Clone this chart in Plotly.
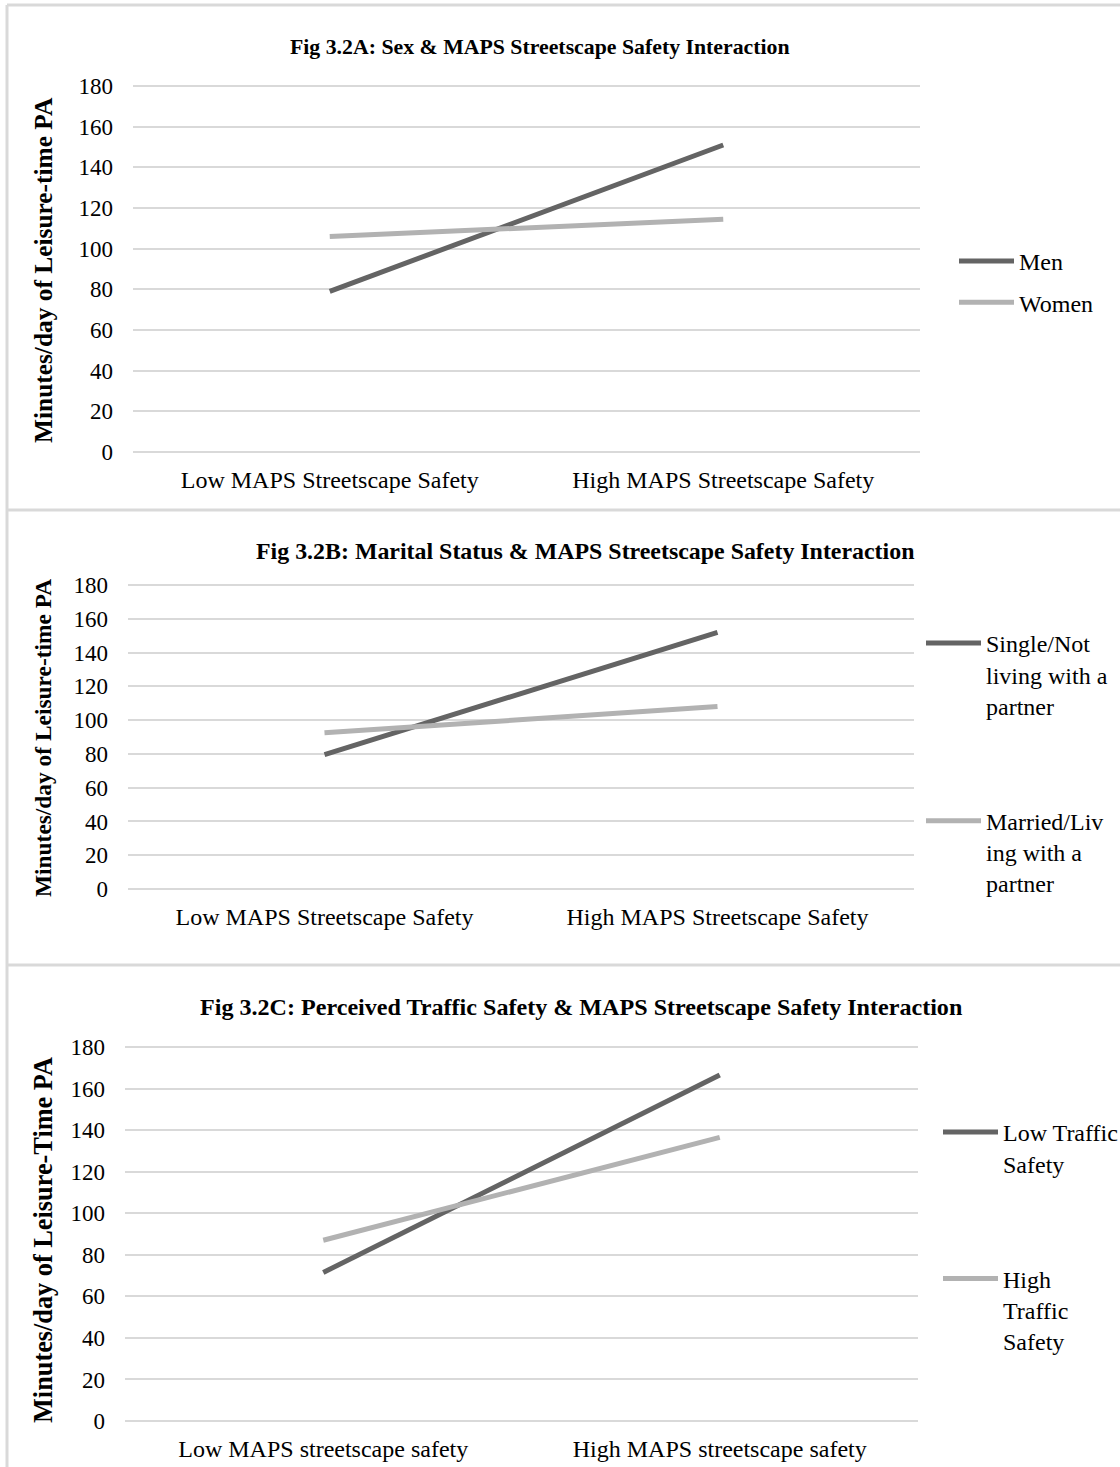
import plotly.graph_objects as go

# ---- data -------------------------------------------------------------
cats_a = ["Low MAPS Streetscape Safety", "High MAPS Streetscape Safety"]
men = [79, 151]
women = [106, 114.5]

cats_b = ["Low MAPS Streetscape Safety", "High MAPS Streetscape Safety"]
single = [79.5, 152]
married = [92.5, 108]

cats_c = ["Low MAPS streetscape safety", "High MAPS streetscape safety"]
low_traffic = [71.5, 166.5]
high_traffic = [87, 136.5]

y_ticks = [0, 20, 40, 60, 80, 100, 120, 140, 160, 180]

# ---- page geometry ----------------------------------------------------
W, H = 1120, 1467
DARK = "#646464"
LIGHT = "#b2b2b2"
GRID = "#d9d9d9"
FONT = "Liberation Serif, Times New Roman, serif"
Y_MAX = 180
Y_PAD = 1.5  # headroom so the top gridline is drawn


def px_x(x):
    return x / W


def px_y(y):
    return 1 - y / H


panels = [
    # plot area in pixels: left, right, y of value 180, y of value 0
    dict(l=133, r=920, t=86, b=452),
    dict(l=128, r=914, t=585, b=889),
    dict(l=125, r=918, t=1047, b=1421),
]

fig = go.Figure()

series = [
    (cats_a, men, "Men", DARK, "x", "y", "legend"),
    (cats_a, women, "Women", LIGHT, "x", "y", "legend"),
    (cats_b, single, "Single/Not<br>living with a<br>partner", DARK, "x2", "y2", "legend2"),
    (cats_b, married, "Married/Liv<br>ing with a<br>partner", LIGHT, "x2", "y2", "legend2"),
    (cats_c, low_traffic, "Low Traffic<br>Safety", DARK, "x3", "y3", "legend3"),
    (cats_c, high_traffic, "High<br>Traffic<br>Safety", LIGHT, "x3", "y3", "legend3"),
]
for i, (cx, vals, name, col, xa, ya, lg) in enumerate(series):
    fig.add_trace(go.Scatter(
        x=cx, y=vals, name=name, mode="lines",
        line=dict(color=col, width=5),
        xaxis=xa, yaxis=ya, legend=lg, legendgroup=str(i),
    ))

xtick_font = dict(family=FONT, size=24, color="black")
ytick_font = dict(family=FONT, size=23, color="black")
for i, p in enumerate(panels):
    sfx = "" if i == 0 else str(i + 1)
    top = p["t"] - (p["b"] - p["t"]) / Y_MAX * Y_PAD
    fig.update_layout(**{
        "xaxis" + sfx: dict(
            domain=[px_x(p["l"]), px_x(p["r"])],
            anchor="y" + sfx, type="category", range=[-0.5, 1.5],
            showgrid=False, showline=False, zeroline=False,
            ticks="", tickfont=xtick_font, ticklabelstandoff=11,
        ),
        "yaxis" + sfx: dict(
            domain=[px_y(p["b"]), px_y(top)],
            anchor="x" + sfx, range=[0, Y_MAX + Y_PAD],
            tickvals=y_ticks, showgrid=True, gridcolor=GRID, gridwidth=2,
            zeroline=True, zerolinecolor=GRID, zerolinewidth=2,
            showline=False, ticks="", tickfont=ytick_font,
            ticklabelstandoff=19,
        ),
    })

legend_common = dict(
    font=dict(family=FONT, size=24, color="black"),
    bgcolor="rgba(0,0,0,0)", xanchor="left", yanchor="top",
    valign="top", itemclick=False, itemdoubleclick=False,
    itemwidth=55,
)
fig.update_layout(
    legend=dict(x=px_x(954), y=px_y(239), tracegroupgap=7, **legend_common),
    legend2=dict(x=px_x(921), y=px_y(621), tracegroupgap=81, **legend_common),
    legend3=dict(x=px_x(938), y=px_y(1110), tracegroupgap=81, **legend_common),
)

# panel frames
frame = dict(type="line", xref="paper", yref="paper",
             line=dict(color=GRID, width=3), layer="below")
shapes = [
    dict(x0=px_x(7), x1=px_x(7), y0=0, y1=px_y(5), **frame),
    dict(x0=px_x(7), x1=1, y0=px_y(5), y1=px_y(5), **frame),
    dict(x0=px_x(7), x1=1, y0=px_y(510), y1=px_y(510), **frame),
    dict(x0=px_x(7), x1=1, y0=px_y(965), y1=px_y(965), **frame),
]

titles = [
    ("Fig 3.2A: Sex & MAPS Streetscape Safety Interaction", 540, 47, 21.8),
    ("Fig 3.2B: Marital Status & MAPS Streetscape Safety Interaction", 585, 551, 23.9),
    ("Fig 3.2C: Perceived Traffic Safety & MAPS Streetscape Safety Interaction", 581, 1007, 24.1),
]
ytitles = [
    ("Minutes/day of Leisure-time PA", 43, 270, 25.4),
    ("Minutes/day of Leisure-time PA", 43, 738, 23.4),
    ("Minutes/day of Leisure-Time PA", 43, 1240, 26.3),
]
annotations = []
for txt, x, y, sz in titles:
    annotations.append(dict(
        text="<b>" + txt + "</b>", x=px_x(x), y=px_y(y), xref="paper", yref="paper",
        showarrow=False, xanchor="center", yanchor="middle",
        font=dict(family=FONT, size=sz, color="black"),
    ))
for txt, x, y, sz in ytitles:
    annotations.append(dict(
        text="<b>" + txt + "</b>", x=px_x(x), y=px_y(y), xref="paper", yref="paper",
        showarrow=False, xanchor="center", yanchor="middle", textangle=-90,
        font=dict(family=FONT, size=sz, color="black"),
    ))

fig.update_layout(
    width=W, height=H,
    margin=dict(l=0, r=0, t=0, b=0, autoexpand=False),
    paper_bgcolor="white", plot_bgcolor="white",
    shapes=shapes, annotations=annotations,
)

fig.write_html("out.html")
